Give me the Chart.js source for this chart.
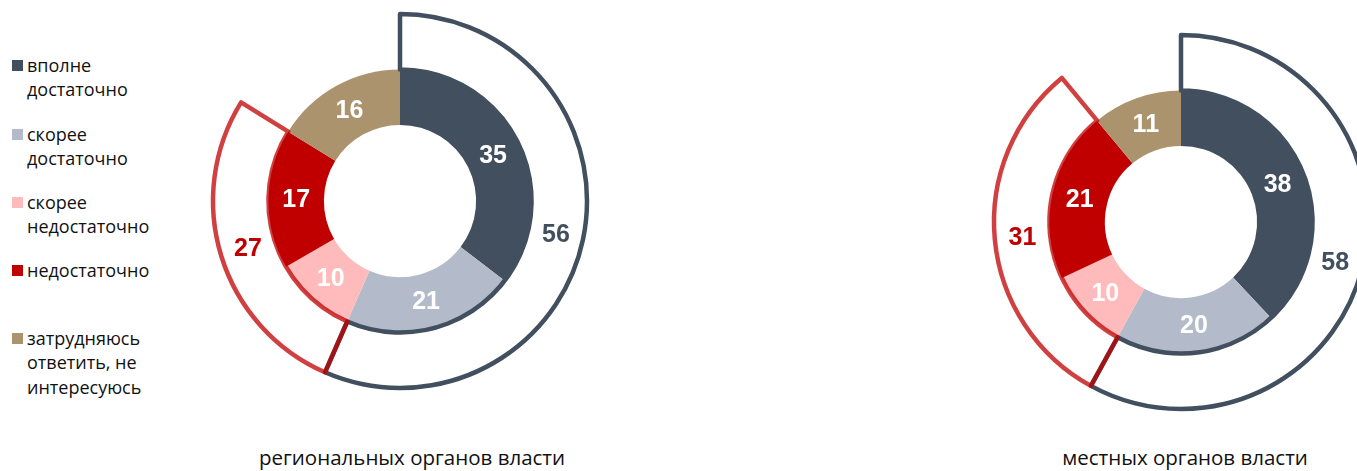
<!DOCTYPE html>
<html>
<head>
<meta charset="utf-8">
<script src="https://cdn.jsdelivr.net/npm/chart.js@4.4.1/dist/chart.umd.min.js"></script>
<style>
  html, body { margin: 0; padding: 0; background: #fff; }
  body { width: 1357px; height: 471px; position: relative; overflow: hidden; font-family: "Open Sans", "Noto Sans", sans-serif; color: #111; }
  canvas { position: absolute; }
  .leg { position: absolute; left: 27px; font-size: 18px; line-height: 24.5px; white-space: nowrap; }
  .sq { position: absolute; left: 12px; width: 11px; height: 11px; }
  .title { position: absolute; top: 444px; font-size: 20.5px; line-height: 26px; white-space: nowrap; transform: translateX(-50%); }
</style>
</head>
<body>
<canvas id="c1" width="400" height="400" style="left:200px;top:1px;"></canvas>
<canvas id="c2" width="400" height="400" style="left:981px;top:22px;"></canvas>
<div id="legend"></div>
<div class="title" id="t1" style="left:412px;"></div>
<div class="title" id="t2" style="left:1185px;"></div>
<script>
// ---- data ----
const categories = ["вполне достаточно", "скорее достаточно", "скорее недостаточно", "недостаточно", "затрудняюсь ответить, не интересуюсь"];
const legendLines = [["вполне", "достаточно"], ["скорее", "достаточно"], ["скорее", "недостаточно"], ["недостаточно"], ["затрудняюсь", "ответить, не", "интересуюсь"]];
const regionalValues = [35, 21, 10, 17, 16];
const localValues = [38, 20, 10, 21, 11];
const groupLabels = ["достаточно", "недостаточно", "затрудняюсь"];
const regionalGroups = [56, 27, 16];
const localGroups = [58, 31, 11];
const chartTitles = ["региональных органов власти", "местных органов власти"];

const colors = ["#424f5e", "#b3bac9", "#ffbbbb", "#c00000", "#ab936e"];
const groupBorder = ["#414f5f", "rgba(192,0,0,0.75)", "rgba(0,0,0,0)"];
const groupText = ["#414f5f", "#c00000", "rgba(0,0,0,0)"];

document.getElementById('t1').textContent = chartTitles[0];
document.getElementById('t2').textContent = chartTitles[1];

// legend (HTML text)
const legendTops = [65, 134, 202, 270, 338];
const legEl = document.getElementById('legend');
legendLines.forEach((lines, i) => {
  const sq = document.createElement('div');
  sq.className = 'sq';
  sq.style.background = colors[i];
  sq.style.top = (legendTops[i] - 5.5) + 'px';
  legEl.appendChild(sq);
  const t = document.createElement('div');
  t.className = 'leg';
  t.style.top = (legendTops[i] - 12.25) + 'px';
  t.innerHTML = lines.join('<br>');
  legEl.appendChild(t);
});

const labelPlugin = {
  id: 'arcLabels',
  afterDatasetsDraw(chart) {
    const ctx = chart.ctx;
    ctx.save();
    ctx.font = 'bold 25px "Liberation Sans", Arial, sans-serif';
    ctx.textAlign = 'center';
    ctx.textBaseline = 'middle';
    chart.data.datasets.forEach((ds, di) => {
      const meta = chart.getDatasetMeta(di);
      meta.data.forEach((arc, i) => {
        const p = arc.getCenterPoint();
        const color = ds.labelColors[i];
        if (color === 'rgba(0,0,0,0)') return;
        ctx.fillStyle = color;
        ctx.fillText(String(ds.data[i]), p.x, p.y + 1);
      });
    });
    ctx.restore();
  }
};

function makeChart(id, groups, values) {
  return new Chart(document.getElementById(id), {
    type: 'doughnut',
    data: {
      labels: categories,
      datasets: [
        {
          label: 'groups',
          data: groups,
          backgroundColor: 'rgba(0,0,0,0)',
          borderColor: groupBorder,
          borderWidth: 4.5,
          borderJoinStyle: 'round',
          labelColors: groupText
        },
        {
          label: 'values',
          data: values,
          backgroundColor: colors,
          borderWidth: 0,
          labelColors: ['#fff', '#fff', '#fff', '#fff', '#fff']
        }
      ]
    },
    options: {
      responsive: false,
      animation: false,
      radius: 187,
      cutout: '40.7%',
      rotation: 0,
      layout: { padding: 0 },
      plugins: { legend: { display: false }, tooltip: { enabled: false } }
    },
    plugins: [labelPlugin]
  });
}
makeChart('c1', regionalGroups, regionalValues);
makeChart('c2', localGroups, localValues);
</script>
</body>
</html>
